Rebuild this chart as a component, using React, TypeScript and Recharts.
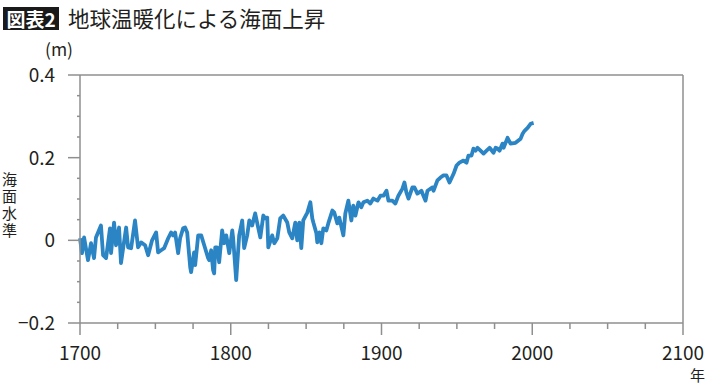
import { LineChart, Line, XAxis, YAxis, ReferenceLine } from 'recharts'

const AXIS_COLOR = '#8f8f8f'
const LINE_COLOR = '#2b84c3'
const TEXT_COLOR = '#231f20'
const FONT = '"Noto Sans CJK JP", "Noto Sans", sans-serif'

// years (read off the curve, not evenly spaced)
const YEARS = [
  1700, 1701.3, 1702.7, 1705.3, 1707.3, 1709.3, 1710.6, 1713.9, 1715.3, 1717.3,
  1719.9, 1720.6, 1722.6, 1723.9, 1725.9, 1727.2, 1730.6, 1731.9, 1733.9, 1736.5,
  1738.5, 1740.5, 1743.2, 1745.2, 1747.8, 1750.5, 1751.8, 1753.8, 1755.8, 1758.5,
  1760.4, 1761.8, 1763.1, 1765.1, 1766.4, 1768.4, 1769.7, 1771.1, 1773.1, 1773.7,
  1775.7, 1776.4, 1778.4, 1780.4, 1782.4, 1785.0,
  1785.7, 1787.0, 1788.3, 1789.0, 1789.7, 1791.0, 1792.3, 1794.3, 1795.6, 1797.0,
  1797.6, 1799.0, 1801.0, 1801.6, 1803.6, 1805.6, 1807.6, 1808.9, 1810.9, 1812.3,
  1814.2, 1816.2, 1817.6, 1819.6, 1821.6, 1822.9, 1824.2, 1824.9, 1827.5, 1828.9,
  1830.9, 1832.8, 1834.8, 1837.5, 1838.8, 1840.8, 1842.8, 1844.1, 1845.5, 1846.8,
  1848.1, 1850.8, 1852.8, 1854.1, 1854.8, 1856.8, 1857.4, 1858.8, 1860.1,
  1861.4, 1863.4, 1864.7, 1867.4, 1868.7, 1870.7, 1872.0, 1874.7, 1876.0, 1878.0,
  1880.0, 1881.3, 1882.7, 1884.7, 1886.6, 1888.0, 1890.6, 1892.6, 1894.6, 1897.3,
  1899.3, 1901.3, 1903.3, 1904.6, 1907.2, 1909.2, 1911.2, 1913.9, 1915.2, 1916.5,
  1917.9, 1920.5, 1921.9, 1923.8, 1926.5, 1927.8, 1929.2, 1930.5, 1933.8, 1934.5,
  1937.1, 1939.1,
  1941.1, 1943.1, 1945.1, 1947.8, 1949.8, 1951.7, 1954.4, 1956.4, 1957.7, 1959.7,
  1961.0, 1962.4, 1963.7, 1965.7, 1967.7, 1969.7, 1971.7, 1974.3, 1975.7, 1977.0,
  1978.3, 1980.3, 1981.0, 1983.6, 1985.6, 1988.9, 1992.3, 1993.6, 1994.9, 1996.9,
  1998.9, 2000.9,
]

// sea level (m)
const SEA_LEVEL = [
  0.005, -0.031, 0.007, -0.048, -0.007, -0.043, 0.007, 0.036, -0.036, -0.043,
  0.029, -0.031, 0.043, -0.012, 0.031, -0.055, 0.031, -0.017, -0.019, 0.048,
  -0.017, -0.005, -0.012, -0.036, 0.0, 0.019, -0.029, -0.024, -0.019, 0.005,
  0.019, 0.012, 0.019, -0.031, 0.005, 0.029, 0.031, 0.019, -0.065, -0.077,
  -0.029, -0.06, 0.012, 0.012, -0.012, -0.043,
  -0.048, -0.024, -0.072, -0.08, -0.017, -0.017, -0.053, 0.024, -0.007, 0.012,
  0.0, -0.031, 0.024, 0.005, -0.096, 0.012, 0.048, -0.019, 0.012, 0.048,
  0.036, 0.065, 0.041, 0.007, 0.06, 0.053, 0.055, -0.017, 0.012, -0.007,
  0.005, 0.053, 0.06, 0.043, 0.019, 0.005, 0.043, 0.0, 0.043, -0.019,
  0.048, 0.067, 0.092, 0.053, 0.043, 0.017, -0.005, 0.019, -0.007,
  0.029, 0.024, 0.041, 0.072, 0.067, 0.041, 0.055, 0.012, 0.065, 0.096,
  0.048, 0.084, 0.06, 0.092, 0.08, 0.092, 0.096, 0.089, 0.101, 0.096,
  0.108, 0.108, 0.12, 0.096, 0.096, 0.089, 0.108, 0.125, 0.14, 0.116,
  0.101, 0.128, 0.128, 0.113, 0.12, 0.108, 0.096, 0.12, 0.128, 0.12,
  0.145, 0.152,
  0.157, 0.157, 0.14, 0.161, 0.181, 0.188, 0.193, 0.188, 0.205, 0.205,
  0.222, 0.217, 0.224, 0.217, 0.21, 0.217, 0.224, 0.212, 0.224, 0.222,
  0.217, 0.234, 0.224, 0.248, 0.234, 0.236, 0.246, 0.258, 0.265, 0.272,
  0.282, 0.284,
]

const X_TICKS = [1700, 1725, 1750, 1775, 1800, 1825, 1850, 1875, 1900, 1925, 1950, 1975, 2000, 2025, 2050, 2075, 2100]
const X_MAJOR = [1700, 1800, 1900, 2000, 2100]

const Y_TICKS = [-0.2, -0.15, -0.1, -0.05, 0, 0.05, 0.1, 0.15, 0.2, 0.25, 0.3, 0.35, 0.4]
const Y_MAJOR = [-0.2, 0, 0.2, 0.4]
const Y_MAJOR_LABELS = ['−0.2', '0', '0.2', '0.4']

const data = YEARS.map((year, i) => ({ year, level: SEA_LEVEL[i] }))

const majorIndex = (v: number) => Y_MAJOR.findIndex(m => Math.abs(m - v) < 1e-6)

function LeftTick({ x, y, payload }: any) {
  const i = majorIndex(payload.value)
  return (
    <g>
      <line x1={x - (i >= 0 ? 12 : 3)} y1={y} x2={x} y2={y} stroke={AXIS_COLOR} strokeWidth={1.5} />
      {i >= 0 && (
        <text x={x - 25} y={y} dy="0.36em" textAnchor="end" fontSize={19} fill={TEXT_COLOR} fontFamily={FONT}>
          {Y_MAJOR_LABELS[i]}
        </text>
      )}
    </g>
  )
}

function RightTick({ x, y, payload }: any) {
  const major = majorIndex(payload.value) >= 0
  return <line x1={x} y1={y} x2={x + (major ? 13 : 6)} y2={y} stroke={AXIS_COLOR} strokeWidth={1.5} />
}

function BottomTick({ x, y, payload }: any) {
  const major = X_MAJOR.includes(payload.value)
  return (
    <g>
      <line x1={x} y1={y} x2={x} y2={y + (major ? 12 : 6)} stroke={AXIS_COLOR} strokeWidth={1.5} />
      {major && (
        <text x={x} y={y + 30} dy="0.36em" textAnchor="middle" fontSize={19} fill={TEXT_COLOR} fontFamily={FONT}>
          {payload.value}
        </text>
      )}
    </g>
  )
}

export default function App() {
  return (
    <div style={{ position: 'absolute', left: 0, top: 0, width: 710, height: 386, background: '#fff', fontFamily: FONT, color: TEXT_COLOR }}>
      <div style={{ position: 'absolute', left: 3, top: 7, width: 56, height: 23, background: '#1a1a1a', color: '#fff', fontSize: 19, fontWeight: 700, lineHeight: '23px', textAlign: 'center' }}>
        図表2
      </div>
      <div style={{ position: 'absolute', left: 68, top: 4, fontSize: 21.5, lineHeight: '28px', whiteSpace: 'nowrap' }}>
        地球温暖化による海面上昇
      </div>
      <div style={{ position: 'absolute', left: 45, top: 38, fontSize: 17.5, lineHeight: '22px' }}>(m)</div>
      <div style={{ position: 'absolute', left: 1, top: 172, writingMode: 'vertical-rl', fontSize: 15, lineHeight: '16px', letterSpacing: 2, whiteSpace: 'nowrap' }}>
        海面水準
      </div>
      <div style={{ position: 'absolute', left: 690, top: 364, fontSize: 15, lineHeight: '22px' }}>年</div>

      <LineChart width={710} height={386} data={data} margin={{ top: 75, right: 0, bottom: 0, left: 0 }}>
        <XAxis
          dataKey="year"
          type="number"
          domain={[1700, 2100]}
          ticks={X_TICKS}
          interval={0}
          height={63}
          tickSize={0}
          tickMargin={0}
          tickLine={false}
          tick={<BottomTick />}
          axisLine={{ stroke: AXIS_COLOR, strokeWidth: 1.5 }}
        />
        <YAxis
          yAxisId="left"
          type="number"
          domain={[-0.2, 0.4]}
          ticks={Y_TICKS}
          interval={0}
          width={80}
          tickSize={0}
          tickMargin={0}
          tickLine={false}
          tick={<LeftTick />}
          axisLine={{ stroke: AXIS_COLOR, strokeWidth: 1.5 }}
        />
        <YAxis
          yAxisId="right"
          orientation="right"
          type="number"
          domain={[-0.2, 0.4]}
          ticks={Y_TICKS}
          interval={0}
          width={27}
          tickSize={0}
          tickMargin={0}
          tickLine={false}
          tick={<RightTick />}
          axisLine={{ stroke: AXIS_COLOR, strokeWidth: 1.5 }}
        />
        <ReferenceLine yAxisId="left" y={0.4} stroke={AXIS_COLOR} strokeWidth={1.5} />
        <Line
          yAxisId="left"
          dataKey="level"
          type="linear"
          stroke={LINE_COLOR}
          strokeWidth={3.8}
          strokeLinejoin="round"
          dot={false}
          isAnimationActive={false}
        />
      </LineChart>
    </div>
  )
}
